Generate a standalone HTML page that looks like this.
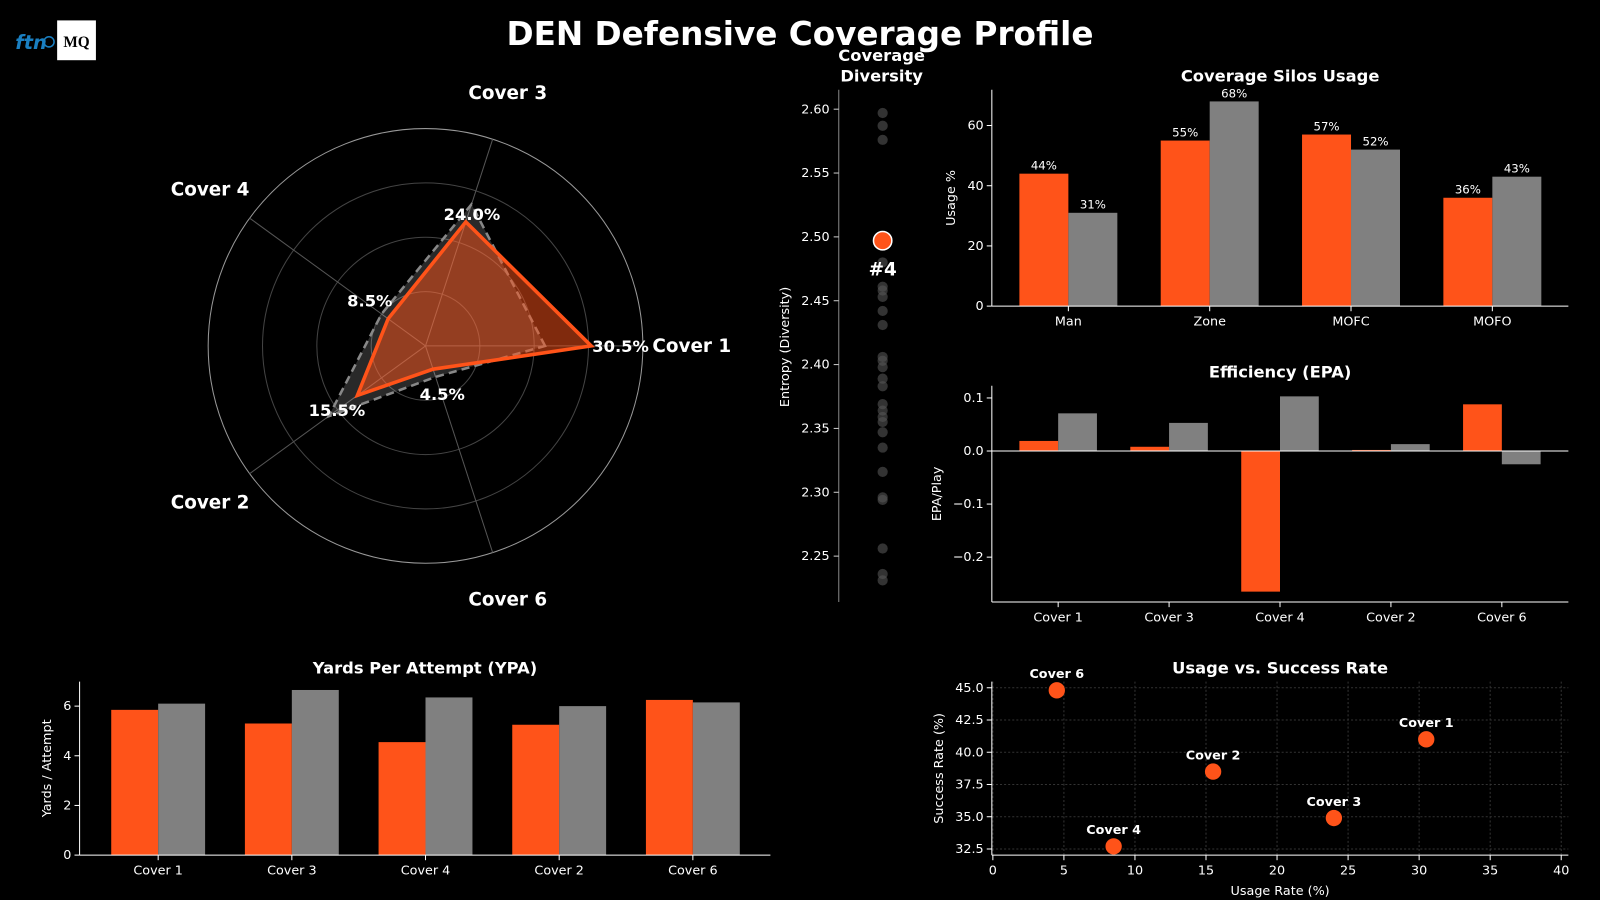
<!DOCTYPE html>
<html><head><meta charset="utf-8">
<style>
html,body{margin:0;padding:0;background:#000;width:1600px;height:900px;overflow:hidden}
svg{display:block}
text{font-family:"DejaVu Sans","Liberation Sans",sans-serif;fill:#fff}
</style></head>
<body>
<svg id="s" width="1600" height="900" viewBox="0 0 1568 882" preserveAspectRatio="none" xmlns="http://www.w3.org/2000/svg">
<rect width="1568" height="882" fill="#000"/>
<text x="784" y="44" text-anchor="middle" font-size="32" font-weight="bold">DEN Defensive Coverage Profile</text>
<g>
<text x="15" y="48" font-size="19" font-weight="bold" fill="#1a7fc1" style="fill:#1a7fc1" font-style="italic">ftn</text>
<circle cx="48" cy="41" r="5" fill="none" stroke="#1a7fc1" stroke-width="1.5"/>
<rect x="56" y="20" width="38" height="39" fill="#fff"/>
<text x="75" y="46" text-anchor="middle" font-size="15" font-weight="bold" style="fill:#000;font-family:'Liberation Serif',serif">MQ</text>
</g>
<g id="radar"></g>
<g id="div"></g>
<g id="silo"></g>
<g id="epa"></g>
<g id="ypa"></g>
<g id="sc"></g>
</svg>
<script>
const coverCats = ["Cover 1","Cover 3","Cover 4","Cover 2","Cover 6"];
const radarTeam = [30.5,24.0,8.5,15.5,4.5];
const radarLeague = [22,27.4,10,22,6];
const diversityOthers = [2.597,2.587,2.576,2.48,2.461,2.458,2.453,2.442,2.431,2.406,2.403,2.398,2.389,2.383,2.369,2.364,2.359,2.355,2.347,2.335,2.316,2.296,2.294,2.256,2.236,2.231];
const diversityTeam = 2.497;
const diversityRank = "#4";
const diversityTicks = [2.25,2.30,2.35,2.40,2.45,2.50,2.55,2.60];
const siloCats = ["Man","Zone","MOFC","MOFO"];
const siloTeam = [44,55,57,36];
const siloLeague = [31,68,52,43];
const siloTicks = [0,20,40,60];
const epaTeam = [0.019,0.008,-0.265,0.002,0.088];
const epaLeague = [0.071,0.053,0.103,0.013,-0.025];
const epaTicks = [-0.2,-0.1,0.0,0.1];
const ypaTeam = [5.85,5.3,4.55,5.25,6.25];
const ypaLeague = [6.1,6.65,6.35,6.0,6.15];
const ypaTicks = [0,2,4,6];
const scUsage = [30.5,24.0,8.5,15.5,4.5];
const scSuccess = [41.0,34.9,32.7,38.5,44.8];
const scXTicks = [0,5,10,15,20,25,30,35,40];
const scYTicks = [32.5,35.0,37.5,40.0,42.5,45.0];

const NS="http://www.w3.org/2000/svg";
const OR="#ff5319", GR="#808080";
function mk(parent,tag,attrs,txt){const e=document.createElementNS(NS,tag);for(const k in attrs)e.setAttribute(k,attrs[k]);if(txt!==undefined)e.textContent=txt;parent.appendChild(e);return e;}
function lin(d0,d1,r0,r1){return v=>r0+(v-d0)*(r1-r0)/(d1-d0);}

// RADAR
(function(){
const g=document.getElementById('radar');
const cx=417,cy=339,R=213,max=40;
const rr=v=>v/max*R;
const ang=i=>i*72*Math.PI/180;
const pt=(i,v)=>[cx+rr(v)*Math.cos(ang(i)),cy-rr(v)*Math.sin(ang(i))];
[10,20,30].forEach(v=>{const c=mk(g,'circle',{cx,cy,r:rr(v),fill:'none',stroke:'#444','stroke-width':1});
});
const oc=mk(g,'circle',{cx,cy,r:R,fill:'none',stroke:'#999','stroke-width':1});

coverCats.forEach((c,i)=>{const p=pt(i,max);const l=mk(g,'line',{x1:cx,y1:cy,x2:p[0],y2:p[1],stroke:'#555','stroke-width':1});
});
const poly=a=>a.map((v,i)=>pt(i,v).join(',')).join(' ');
const lf=mk(g,'polygon',{points:poly(radarLeague),fill:'rgba(255,255,255,0.16)',stroke:'#888','stroke-width':2.5,'stroke-dasharray':'8,5'});

const tf=mk(g,'polygon',{points:poly(radarTeam),fill:'rgba(255,83,25,0.5)',stroke:OR,'stroke-width':3.5,'stroke-linejoin':'miter'});

coverCats.forEach((c,i)=>{
 const p=pt(i,max*1.225);
 const t=mk(g,'text',{x:p[0],y:p[1]+6,'text-anchor':'middle','font-size':18,'font-weight':'bold'},c);
 
 const q=pt(i,radarTeam[i]);
 let ox=0,oy=0;
 if(i===0){ox=14;oy=6;} else if(i===1){ox=6;oy=-2;} else if(i===2){ox=-18;oy=-12;} else if(i===3){ox=-20;oy=20;} else {ox=9;oy=30;}
 const v=mk(g,'text',{x:q[0]+ox,y:q[1]+oy,'text-anchor':i===0?'start':'middle','font-size':16,'font-weight':'bold'},radarTeam[i].toFixed(1)+'%');
 if(i===0)v.setAttribute('x',q[0]+1);
 
});
})();

// DIVERSITY
(function(){
const g=document.getElementById('div');
const y=lin(2.25,2.60,545,107), x=865;
mk(g,'line',{x1:822,y1:88,x2:822,y2:590,stroke:'#888','stroke-width':1});
diversityTicks.forEach(t=>{mk(g,'line',{x1:817,y1:y(t),x2:822,y2:y(t),stroke:'#ccc'});
const tt=mk(g,'text',{x:813,y:y(t)+4,'text-anchor':'end','font-size':12.5},t.toFixed(2));
});
const yl=mk(g,'text',{x:0,y:0,'text-anchor':'middle','font-size':12.5,transform:`translate(773,340) rotate(-90)`},'Entropy (Diversity)');

const ti=mk(g,'text',{x:864,y:60,'text-anchor':'middle','font-size':16,'font-weight':'bold'});
mk(ti,'tspan',{x:864,dy:0},'Coverage');mk(ti,'tspan',{x:864,dy:20},'Diversity');

diversityOthers.forEach(v=>{const c=mk(g,'circle',{cx:x,cy:y(v),r:5,fill:'#555','fill-opacity':0.6});
});
const tc=mk(g,'circle',{cx:x,cy:y(diversityTeam),r:9,fill:OR,stroke:'#fff','stroke-width':1.5});

const rk=mk(g,'text',{x:x,y:y(diversityTeam)+34,'text-anchor':'middle','font-size':18,'font-weight':'bold'},diversityRank);

})();

function barChart(g,o){
 const y=lin(o.d0,o.d1,o.r0,o.r1);
 const zy=y(0);
 o.cats.forEach((c,i)=>{
  const cx=o.x0+i*o.step;
  [[o.a,OR,-1],[o.b,GR,0]].forEach(([arr,col,off])=>{
   const v=arr[i];const top=Math.min(y(v),zy),h=Math.abs(y(v)-zy);
   const r=mk(g,'rect',{x:cx+off*o.bw,y:top,width:o.bw,height:h,fill:col});
   
   if(o.labels){const t=mk(g,'text',{x:cx+off*o.bw+o.bw/2,y:y(v)-4,'text-anchor':'middle','font-size':11.5},Math.round(v)+'%');
   }
  });
  mk(g,'line',{x1:cx,y1:o.bottom,x2:cx,y2:o.bottom+5,stroke:'#fff'});
  const t=mk(g,'text',{x:cx,y:o.bottom+19,'text-anchor':'middle','font-size':12.5},c);
  
 });
 o.ticks.forEach(t=>{mk(g,'line',{x1:o.left-5,y1:y(t),x2:o.left,y2:y(t),stroke:'#fff'});
  const tt=mk(g,'text',{x:o.left-8,y:y(t)+4,'text-anchor':'end','font-size':12.5},o.fmt(t));
  });
 mk(g,'line',{x1:o.left,y1:o.top,x2:o.left,y2:o.bottom,stroke:'#fff','stroke-width':1});
 mk(g,'line',{x1:o.left,y1:o.bottom,x2:o.right,y2:o.bottom,stroke:'#fff','stroke-width':1});
 if(o.zeroLine)mk(g,'line',{x1:o.left,y1:zy,x2:o.right,y2:zy,stroke:'#fff','stroke-width':1});
 const ti=mk(g,'text',{x:(o.left+o.right)/2,y:o.top-8,'text-anchor':'middle','font-size':16,'font-weight':'bold'},o.title);
 
 const yl=mk(g,'text',{x:0,y:0,'text-anchor':'middle','font-size':12.5,transform:`translate(${o.ylx},${(o.top+o.bottom)/2}) rotate(-90)`},o.ylabel);
 
}
barChart(document.getElementById('silo'),{cats:siloCats,a:siloTeam,b:siloLeague,ticks:siloTicks,d0:0,d1:60,r0:300,r1:123,x0:1047,step:138.5,bw:48,left:972,right:1537,top:88,bottom:300,labels:true,title:'Coverage Silos Usage',ylabel:'Usage %',ylx:936,fmt:t=>t});
barChart(document.getElementById('epa'),{cats:coverCats,a:epaTeam,b:epaLeague,ticks:epaTicks,d0:0,d1:0.1,r0:442,r1:390,x0:1037,step:108.7,bw:38,left:972,right:1537,top:378,bottom:590,zeroLine:true,title:'Efficiency (EPA)',ylabel:'EPA/Play',ylx:922,fmt:t=>t.toFixed(1).replace('-','\u2212')});
barChart(document.getElementById('ypa'),{cats:coverCats,a:ypaTeam,b:ypaLeague,ticks:ypaTicks,d0:0,d1:6,r0:838,r1:692,x0:155,step:131,bw:46,left:78,right:755,top:668,bottom:838,title:'Yards Per Attempt (YPA)',ylabel:'Yards / Attempt',ylx:50,fmt:t=>t});

// SCATTER
(function(){
const g=document.getElementById('sc');
const x=lin(0,40,973,1530), y=lin(32.5,45,832,674);
const L=972,R=1537,T=668,B=838;
scXTicks.forEach(t=>{mk(g,'line',{x1:x(t),y1:T,x2:x(t),y2:B,stroke:'#333','stroke-dasharray':'2,2'});
 mk(g,'line',{x1:x(t),y1:B,x2:x(t),y2:B+5,stroke:'#fff'});
 const tt=mk(g,'text',{x:x(t),y:B+19,'text-anchor':'middle','font-size':12.5},t);
 });
scYTicks.forEach(t=>{mk(g,'line',{x1:L,y1:y(t),x2:R,y2:y(t),stroke:'#333','stroke-dasharray':'2,2'});
 mk(g,'line',{x1:L-5,y1:y(t),x2:L,y2:y(t),stroke:'#fff'});
 const tt=mk(g,'text',{x:L-8,y:y(t)+4,'text-anchor':'end','font-size':12.5},t.toFixed(1));
 });
mk(g,'line',{x1:L,y1:T,x2:L,y2:B,stroke:'#fff'});
mk(g,'line',{x1:L,y1:B,x2:R,y2:B,stroke:'#fff'});
scUsage.forEach((u,i)=>{const c=mk(g,'circle',{cx:x(u),cy:y(scSuccess[i]),r:8,fill:OR});
 
 const t=mk(g,'text',{x:x(u),y:y(scSuccess[i])-12,'text-anchor':'middle','font-size':12.5,'font-weight':'bold'},coverCats[i]);
 });
const ti=mk(g,'text',{x:(L+R)/2,y:T-8,'text-anchor':'middle','font-size':16,'font-weight':'bold'},'Usage vs. Success Rate');

const xl=mk(g,'text',{x:(L+R)/2,y:877,'text-anchor':'middle','font-size':12.5},'Usage Rate (%)');

const yl=mk(g,'text',{x:0,y:0,'text-anchor':'middle','font-size':12.5,transform:`translate(924,753) rotate(-90)`},'Success Rate (%)');

})();
</script>
</body></html>
